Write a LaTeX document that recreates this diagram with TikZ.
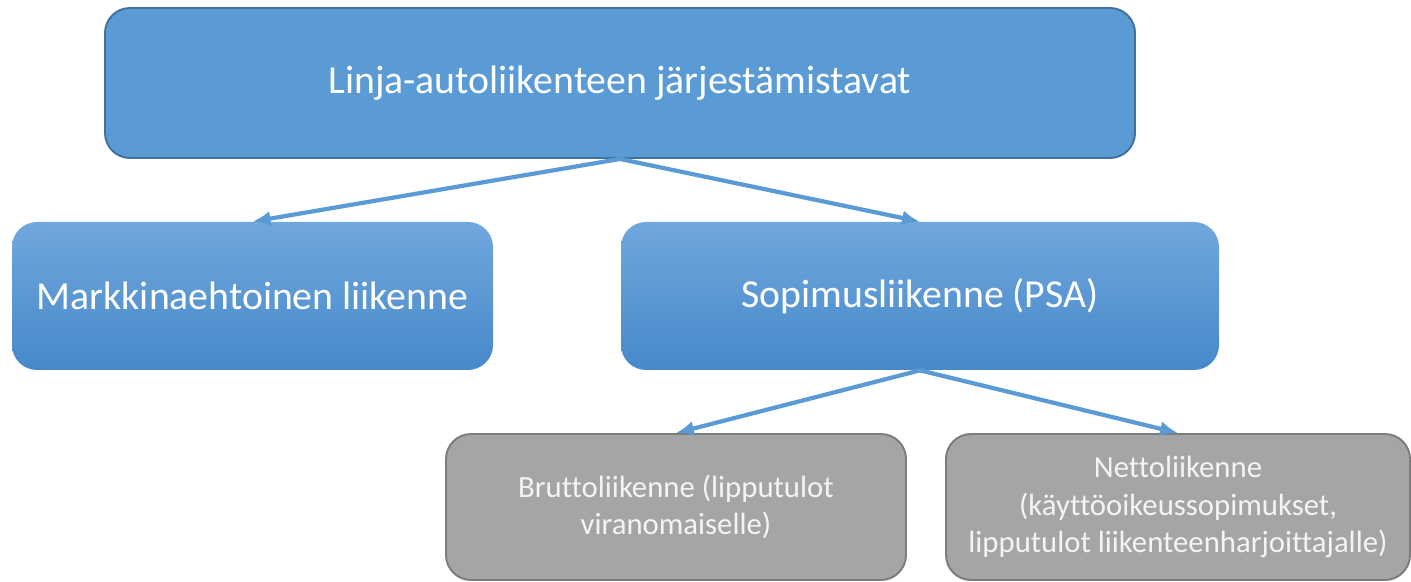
\documentclass[tikz,border=0pt]{standalone}
\usepackage{fontspec}
\setmainfont{Carlito}[Ligatures=NoCommon]
\usetikzlibrary{arrows.meta}

\definecolor{blueFill}{HTML}{5B9BD5}
\definecolor{blueEdge}{HTML}{41719C}
\definecolor{blueTop}{HTML}{71A7DD}
\definecolor{blueBot}{HTML}{4689CA}
\definecolor{greyFill}{HTML}{A5A5A5}
\definecolor{greyEdge}{HTML}{7C7C7C}
\definecolor{greyText}{HTML}{F4F4F4}

\begin{document}
\begin{tikzpicture}[
    topbox/.style={draw=blueEdge, fill=blueFill, line width=1.1pt, rounded corners=0.5cm,
        text=white, font=\fontsize{22.6}{27}\selectfont},
    midbox/.style={top color=blueTop, bottom color=blueBot, rounded corners=0.5cm,
        text=white, font=\fontsize{22.6}{27}\selectfont},
    lowbox/.style={draw=greyEdge, fill=greyFill, line width=1.1pt, rounded corners=0.5cm,
        text=greyText, align=center, font=\fontsize{17.5}{21.5}\selectfont},
    link/.style={draw=blueFill, line width=2.4pt, -{Latex[length=0.36cm, width=0.3cm]}}
]
    \useasboundingbox (0,0) rectangle (28.22,-11.64);

    \node[topbox, minimum width=20.6cm, minimum height=3cm] (tavat) at (12.4,-1.66) {Linja-autoliikenteen järjestämistavat};

    \node[midbox, minimum width=9.62cm, minimum height=2.96cm] (markkina) at (5.05,-5.92) {Markkinaehtoinen liikenne};
    \node[midbox, minimum width=11.96cm, minimum height=2.96cm] (sopimus) at (18.4,-5.92) {Sopimusliikenne (PSA)};

    \node[lowbox, minimum width=9.2cm, minimum height=2.92cm] (brutto) at (13.52,-10.14) {Bruttoliikenne (lipputulot\\viranomaiselle)};
    \node[lowbox, minimum width=9.28cm, minimum height=2.92cm] (netto) at (23.56,-10.14) {Nettoliikenne\\(käyttöoikeussopimukset,\\lipputulot liikenteenharjoittajalle)};

    \draw[link] (tavat.south) -- (markkina.north);
    \draw[link] (tavat.south) -- (sopimus.north);
    \draw[link] (sopimus.south) -- (brutto.north);
    \draw[link] (sopimus.south) -- (netto.north);
\end{tikzpicture}
\end{document}
